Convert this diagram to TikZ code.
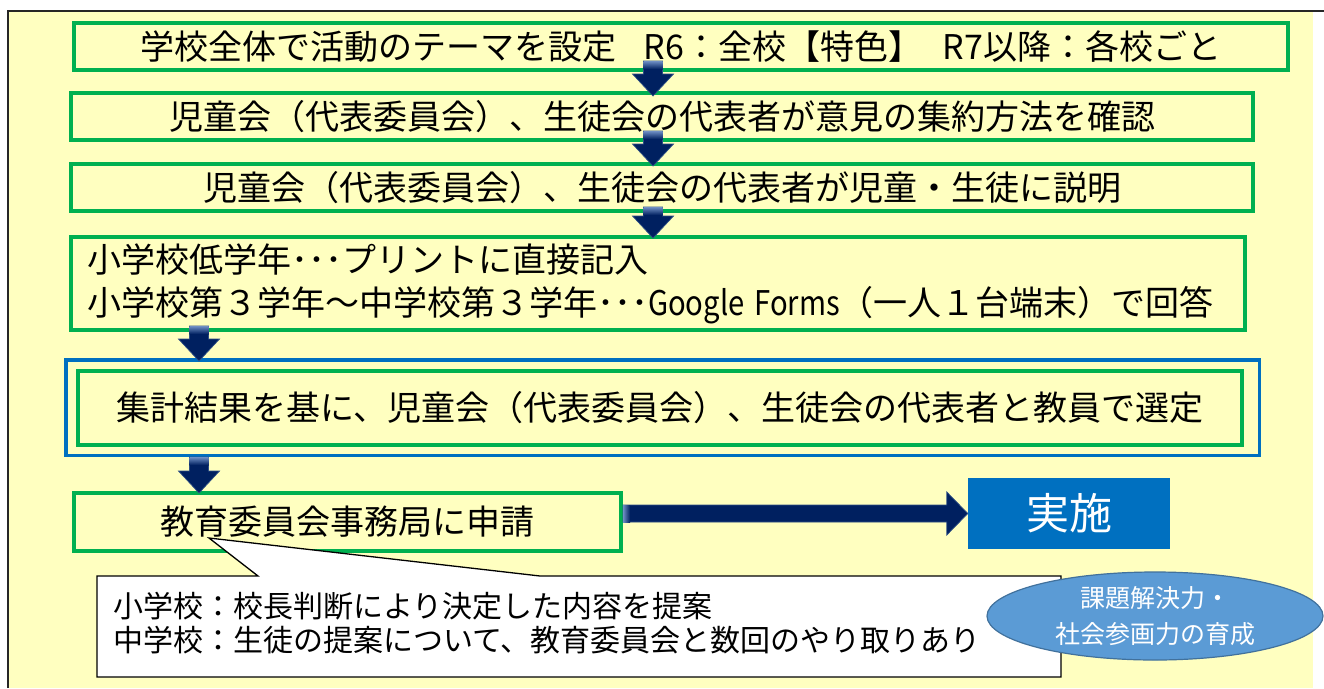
\documentclass[tikz,border=0pt]{standalone}
\usepackage{fontspec}
\setmainfont{Noto Sans CJK JP}
\usetikzlibrary{calc,shapes.geometric}
\definecolor{bgyellow}{HTML}{FFFFC0}
\definecolor{boxgreen}{HTML}{00B050}
\definecolor{navy}{HTML}{002060}
\definecolor{arrowedge}{HTML}{2E4F85}
\definecolor{arrowlight}{HTML}{6F8FC4}
\definecolor{frameblue}{HTML}{0070C0}
\definecolor{ellfill}{HTML}{5B9BD5}
\definecolor{elledge}{HTML}{41719C}
\newcommand\blockdown[2]{%
  \path[fill=navy, draw=arrowedge, line width=0.7pt] let \p1=(#1), \p2=(#2) in
    (\x1-9.5pt,\y1) -- (\x1+9.5pt,\y1) -- (\x1+9.5pt,\y2+22pt) -- (\x1+20.5pt,\y2+22pt)
    -- (\x1,\y2) -- (\x1-20.5pt,\y2+22pt) -- (\x1-9.5pt,\y2+22pt) -- cycle;
  \path[top color=arrowlight, bottom color=navy] let \p1=(#1) in
    (\x1-9.5pt,\y1) rectangle (\x1+9.5pt,\y1-8pt);}
\newcommand\blockright[2]{%
  \path[fill=navy, draw=arrowedge, line width=0.7pt] let \p1=(#1), \p2=(#2) in
    (\x1,\y1-8.5pt) -- (\x2-21pt,\y1-8.5pt) -- (\x2-21pt,\y1-21.5pt) -- (\x2,\y1)
    -- (\x2-21pt,\y1+21.5pt) -- (\x2-21pt,\y1+8.5pt) -- (\x1,\y1+8.5pt) -- cycle;
  \path[left color=arrowlight, right color=navy] let \p1=(#1) in
    (\x1,\y1-8.5pt) rectangle (\x1+7pt,\y1+8.5pt);}
\begin{document}
\begin{tikzpicture}[x=1pt,y=-1pt,
  gbox/.style={draw=boxgreen, line width=4pt, inner sep=0pt, font=\fontsize{34pt}{43pt}\selectfont},
  bframe/.style={draw=frameblue, line width=3.5pt, inner sep=0pt}]
\useasboundingbox (0,0) rectangle (1324,688);
\fill[white] (0,0) rectangle (1324,688);
\fill[bgyellow] (8,11) rectangle (1313,688);
\draw[line width=1.6pt, black!85] (8,688) -- (8,11) -- (1324,11);

\node[gbox, minimum width=1214pt, minimum height=47pt] (b1) at (681,46.5)
  {学校全体で活動のテーマを設定\hspace{0.8em}R6：全校【特色】\hspace{0.6em}R7以降：各校ごと};
\node[gbox, minimum width=1182pt, minimum height=47pt] (b2) at (662,116.5)
  {児童会（代表委員会）、生徒会の代表者が意見の集約方法を確認};
\node[gbox, minimum width=1182pt, minimum height=47pt] (b3) at (662,187.5)
  {児童会（代表委員会）、生徒会の代表者が児童・生徒に説明};
\node[gbox, minimum height=93pt, text width=1142pt, inner xsep=16pt, align=left] (b4) at (658,283.5)
  {小学校低学年･･･プリントに直接記入\\小学校第３学年～中学校第３学年･･･\scalebox{0.86}[1]{Google Forms}（一人１台端末）で回答};
\node[bframe, minimum width=1193.5pt, minimum height=95.5pt] (frame) at (662.5,407.5) {};
\node[gbox, minimum width=1164pt, minimum height=74pt] (b5) at (660,408)
  {集計結果を基に、児童会（代表委員会）、生徒会の代表者と教員で選定};
\node[gbox, minimum width=547pt, minimum height=58pt] (b6) at (347.5,522)
  {教育委員会事務局に申請};
\node[fill=frameblue, minimum width=202pt, minimum height=71pt, inner sep=0pt, text=white,
  font=\fontsize{43pt}{50pt}\selectfont] (jissi) at (1069,513.5) {実施};

\coordinate (ax1) at (653,0);
\coordinate (ax2) at (199,0);
\blockdown{$(b1.south -| ax1)+(0,-11)$}{$(b2.north -| ax1)+(0,5)$}
\blockdown{$(b2.south -| ax1)+(0,-11)$}{$(b3.north -| ax1)+(0,4)$}
\blockdown{$(b3.south -| ax1)+(0,-6)$}{$(b4.north -| ax1)+(0,3)$}
\blockdown{$(b4.south -| ax2)+(0,-6)$}{$(frame.north -| ax2)+(0,3)$}
\blockdown{$(frame.south -| ax2)+(0,0)$}{$(b6.north -| ax2)+(0,2)$}
\blockright{b6.east |- jissi.west}{jissi.west}

\coordinate (ctip) at (209,538);
\filldraw[fill=white, draw=black, line width=1.3pt, line join=miter]
  (97,576) -- (258,576) -- (ctip) -- (540,576) -- (1061,576) -- (1061,677) -- (97,677) -- cycle;
\node[anchor=west, align=left, inner sep=0pt, font=\fontsize{30pt}{34pt}\selectfont] (ctext) at (113,623)
  {小学校：校長判断により決定した内容を提案\\中学校：生徒の提案について、教育委員会と数回のやり取りあり};

\node[ellipse, fill=ellfill, draw=elledge, line width=1.2pt, minimum width=336pt, minimum height=88pt,
  inner sep=0pt, text=white, align=center, font=\fontsize{25pt}{36pt}\selectfont] (goal) at (1155,616)
  {課題解決力・\\社会参画力の育成};
\end{tikzpicture}
\end{document}
